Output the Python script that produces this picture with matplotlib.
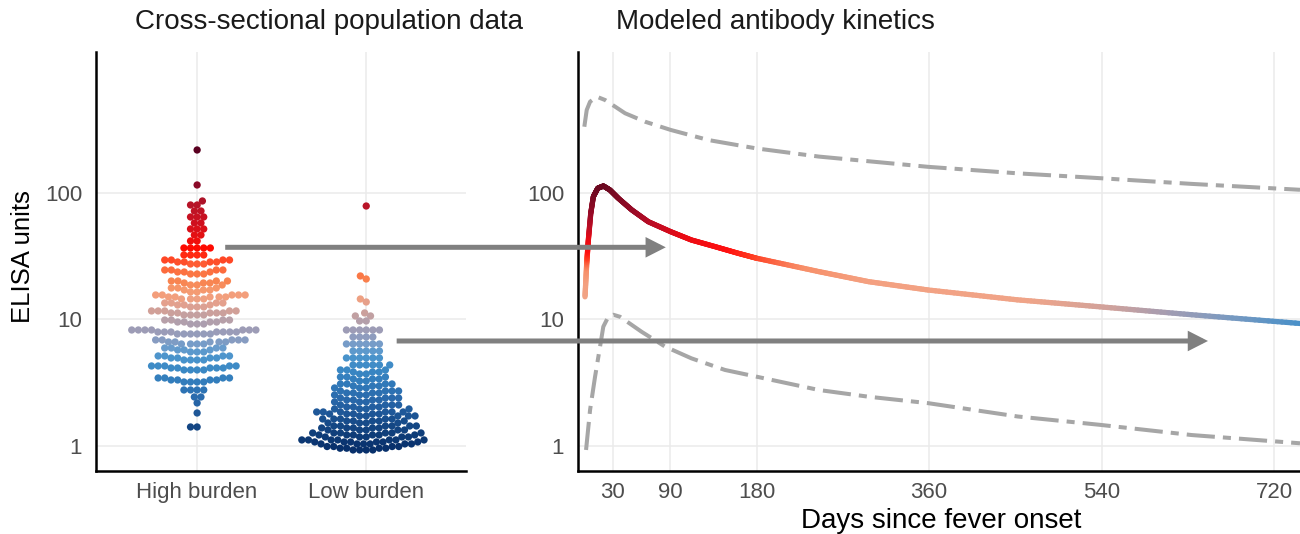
import numpy as np
import matplotlib
matplotlib.use("Agg")
import matplotlib.pyplot as plt
from matplotlib.colors import LinearSegmentedColormap
from matplotlib.collections import LineCollection
from matplotlib.patches import ConnectionPatch
from matplotlib.ticker import NullLocator, FixedLocator, FixedFormatter

plt.rcParams['font.family'] = ['Liberation Sans', 'DejaVu Sans']

# ---------------- data ----------------
groups = ["High burden", "Low burden"]

# each wide band is read at its centre, middle and tips.
high_values = [218.8, 115.7, 86.46, 80.38, 72.07, 64.61, 57.93, 51.94, 46.56,
               41.75, 36.75, 32.35,
               27.46, 28.48, 29.53,
               22.89, 23.74, 24.62,
               18.74, 19.43, 20.15,
               16.50, 17.11, 17.74,
               14.52, 15.06, 15.62,
               12.56, 13.02, 13.50,
               10.86, 11.26, 11.68,
               9.21, 9.55, 9.90,
               7.68, 7.965, 8.26,
               6.40, 6.641, 6.89,
               5.54, 5.741, 5.95,
               4.785, 4.962, 5.146,
               3.99, 4.136, 4.29,
               3.206, 3.325, 3.448,
               2.772, 2.440, 2.188, 1.823, 1.413]
high_counts = [1, 1, 1, 2, 2, 3, 2, 3, 2,
               2, 5, 4,
               3, 4, 4,
               3, 3, 4,
               3, 3, 4,
               2, 3, 3,
               4, 5, 5,
               3, 3, 4,
               4, 5, 5,
               3, 4, 4,
               6, 7, 7,
               4, 5, 5,
               3, 3, 4,
               4, 4, 4,
               4, 5, 5,
               4, 4, 4,
               4, 2, 1, 1, 2]

low_values = [78.9, 22.08, 20.90, 14.52, 13.75, 11.26, 10.66, 9.73, 8.260,
              7.272, 6.402, 5.636, 4.962, 4.369,
              3.709, 3.846, 3.988,
              3.264, 3.385, 3.510,
              2.875, 2.981, 3.091,
              2.530, 2.624, 2.721,
              2.228, 2.310, 2.395,
              1.961, 2.034, 2.109,
              1.727, 1.791, 1.857,
              1.520, 1.576, 1.634,
              1.338, 1.388, 1.439,
              1.178, 1.222, 1.267,
              1.038, 1.076, 1.116,
              0.930, 0.960, 0.990]
low_counts = [1, 1, 1, 1, 1, 1, 2, 2, 6,
              4, 6, 5, 6, 6,
              2, 3, 3,
              2, 3, 3,
              3, 3, 4,
              3, 4, 4,
              3, 4, 4,
              4, 4, 4,
              5, 5, 6,
              4, 5, 5,
              5, 5, 6,
              5, 6, 6,
              6, 6, 7,
              4, 4, 4]

# Modeled kinetics (days since fever onset, ELISA units)
mean_days = [1, 2.8, 4.5, 7, 9.7, 14.3, 20.2, 27, 35.8, 49.8, 67, 90.5, 112,
             137, 160, 180, 245, 297, 359, 452, 538, 634, 747]
mean_vals = [15.1, 27.8, 42.5, 69, 93.6, 109, 113.6, 105.7, 90.8, 73.5, 59.3,
             49.4, 42.5, 37.6, 33.5, 30.5, 23.9, 19.9, 17.1, 14.3, 12.6, 10.9, 9.3]

upper_days = [0.3, 2.8, 6.3, 13.3, 22, 42.8, 63.7, 90.5, 130, 180, 245, 359,
              452.5, 538, 634, 747]
upper_vals = [334, 453, 527, 577, 543, 427, 366, 315, 262, 225, 194, 161,
              143, 131, 118, 106]

lower_days = [2.1, 6.3, 11.5, 16.7, 20.1, 25.3, 30.5, 37.6, 60, 84.6, 112, 147,
              180, 245, 297, 359, 452.5, 538, 634, 747]
lower_vals = [0.93, 1.93, 3.53, 6.1, 8.77, 10.5, 10.9, 10.5, 8.0, 6.1, 4.93,
              3.99, 3.53, 2.77, 2.45, 2.18, 1.71, 1.47, 1.22, 1.05]

y_ticks = [1, 10, 100]
y_tick_labels = ["1", "10", "100"]
day_ticks = [30, 90, 180, 360, 540, 720]

# arrows: (group position, ELISA) -> (day, ELISA)
arrow_from = [(1.166, 37.2), (2.18, 6.76)]
arrow_to = [(85.3, 37.2), (651, 6.76)]

# ---------------- colour scales ----------------
pt_stops = [(0.95, '#08306b'), (1.2, '#0e3c78'), (1.5, '#164a88'), (2.0, '#225ea0'),
            (2.4, '#2a6aac'), (3.0, '#2f78b8'), (4.0, '#3a88c4'), (5.0, '#4a94cc'),
            (6.0, '#6a9ccc'), (7.0, '#8a9cc0'), (8.0, '#9a9cb8'), (10, '#b8a0a8'),
            (12, '#d4a096'), (13, '#e0a090'), (15, '#f2a07f'), (17, '#f59a70'),
            (20, '#f88450'), (24, '#fc7040'), (28, '#fe5a32'), (30, '#ff4020'),
            (37, '#ff0a00'), (45, '#e81010'), (60, '#cc1020'), (80, '#b81428'),
            (116, '#8a0a28'), (219, '#5a0020')]
curve_stops = [(9.3, '#4a90c8'), (10.3, '#7c9ac0'), (11.2, '#a29cb2'),
               (12.3, '#d0a29c'), (14, '#f0a488'), (20, '#f4a080'), (25, '#f7906a'),
               (28, '#fb6a48'), (31, '#ff3a20'), (35, '#ff1010'), (45, '#e80a14'),
               (55, '#c00c24'), (70, '#9a0a26'), (100, '#760a22'), (115, '#6a0820')]


def make_scale(stops):
    lv = np.log10([s[0] for s in stops])
    lo, hi = lv[0], lv[-1]
    pos = (lv - lo) / (hi - lo)
    cmap = LinearSegmentedColormap.from_list('c', list(zip(pos, [s[1] for s in stops])))

    def f(v):
        t = (np.log10(np.asarray(v, float)) - lo) / (hi - lo)
        return cmap(np.clip(t, 0, 1))
    return f


pt_color = make_scale(pt_stops)
curve_color = make_scale(curve_stops)

# ---------------- figure ----------------
W, H = 1300, 534
fig = plt.figure(figsize=(W / 100, H / 100), dpi=100)
ax1 = fig.add_axes([96 / W, 1 - 471 / H, 370 / W, 419 / H])
ax2 = fig.add_axes([578 / W, 1 - 471 / H, 722 / W, 419 / H])

ylim = (0.634, 1302)
grid_c = '#ebebeb'
tick_c = '#4d4d4d'
for ax in (ax1, ax2):
    ax.set_yscale('log')
    ax.set_ylim(*ylim)
    ax.yaxis.set_major_locator(FixedLocator(y_ticks))
    ax.yaxis.set_major_formatter(FixedFormatter(y_tick_labels))
    ax.yaxis.set_minor_locator(NullLocator())
    ax.xaxis.set_minor_locator(NullLocator())
    ax.grid(True, color=grid_c, lw=1.1, zorder=0)
    ax.set_axisbelow(True)
    for s in ('top', 'right'):
        ax.spines[s].set_visible(False)
    for s in ('left', 'bottom'):
        ax.spines[s].set_linewidth(1.8)
        ax.spines[s].set_color('black')
    ax.tick_params(axis='both', length=0, labelsize=16, labelcolor=tick_c)
    ax.tick_params(axis='y', pad=10)
    ax.tick_params(axis='x', pad=8)

# ----- left panel: beeswarm -----
ax1.set_xlim(0.402, 2.59)
ax1.set_xticks([1, 2])
ax1.set_xticklabels(groups)

spacing_px = 6.6
marker_px = 7.3
fig.canvas.draw()


def swarm(values, counts, center):
    vals = np.repeat(values, counts)
    ypx = ax1.transData.transform(np.column_stack([np.full(len(vals), center), vals]))[:, 1]
    order = np.argsort(ypx, kind='stable')
    xs = np.zeros(len(vals))
    placed = []
    d2 = spacing_px ** 2
    for i in order:
        y = ypx[i]
        near = [(xs[j], ypx[j]) for j in placed if abs(ypx[j] - y) < spacing_px]
        cands = [0.0]
        for xj, yj in near:
            dx = np.sqrt(d2 - (yj - y) ** 2)
            cands += [xj + dx, xj - dx]
        cands.sort(key=lambda c: (abs(c), c))
        for c in cands:
            if all((c - xj) ** 2 + (y - yj) ** 2 >= d2 - 1e-6 for xj, yj in near):
                xs[i] = c
                break
        placed.append(i)
    cx = ax1.transData.transform((center, 1))[0]
    disp = np.column_stack([cx + xs, ypx])
    data = ax1.transData.inverted().transform(disp)
    return data[:, 0], vals


for pos, vals_list, cnts in ((1, high_values, high_counts), (2, low_values, low_counts)):
    x, v = swarm(vals_list, cnts, pos)
    ax1.scatter(x, v, s=(marker_px / 1.389) ** 2, c=pt_color(v), linewidths=0, zorder=3)

# ----- right panel: kinetics -----
ax2.set_xlim(-6.3, 747)
ax2.set_xticks(day_ticks)
ax2.set_xticklabels([str(d) for d in day_ticks])

dash = (7.0, 2.0, 2.0, 2.0)
ax2.plot(upper_days, upper_vals, color='#a6a6a6', lw=2.9, dashes=dash, zorder=2)
ax2.plot(lower_days, lower_vals, color='#a6a6a6', lw=2.9, dashes=dash, zorder=2)

# colour the mean curve by its value (straight pieces split only for the gradient)
mx = np.asarray(mean_days, float)
my = np.log10(mean_vals)
sx, sy = [], []
for i in range(len(mx) - 1):
    t = np.linspace(0, 1, 24, endpoint=False)
    sx.append(mx[i] + t * (mx[i + 1] - mx[i]))
    sy.append(my[i] + t * (my[i + 1] - my[i]))
sx.append([mx[-1]])
sy.append([my[-1]])
sx = np.concatenate(sx)
sy = 10 ** np.concatenate(sy)
pts = np.column_stack([sx, sy]).reshape(-1, 1, 2)
segs = np.concatenate([pts[:-1], pts[1:]], axis=1)
mid = np.sqrt(sy[:-1] * sy[1:])
lc = LineCollection(segs, colors=curve_color(mid), linewidths=3.8, capstyle='round', zorder=3)
ax2.add_collection(lc)

# ----- labels -----
ax1.set_ylabel('ELISA units', fontsize=18.5, va='center')
ax1.yaxis.set_label_coords(-0.197, 0.511)
ax2.set_xlabel('Days since fever onset', fontsize=20, va='center')
ax2.xaxis.set_label_coords(0.503, -0.119)

fig.text(329 / W, 1 - 22 / H, 'Cross-sectional population data', fontsize=20,
         ha='center', va='center', color='#1a1a1a')
fig.text(775 / W, 1 - 22 / H, 'Modeled antibody kinetics', fontsize=20,
         ha='center', va='center', color='#1a1a1a')

# ----- arrows linking the panels -----
for a, b in zip(arrow_from, arrow_to):
    con = ConnectionPatch(xyA=a, xyB=b, coordsA='data', coordsB='data',
                          axesA=ax1, axesB=ax2, color='#808080', lw=3.6,
                          arrowstyle='-|>,head_length=0.55,head_width=0.28',
                          mutation_scale=16, shrinkA=0, shrinkB=0,
                          joinstyle='miter', capstyle='butt', zorder=5)
    fig.add_artist(con)

fig.savefig('out.png', dpi=100)
